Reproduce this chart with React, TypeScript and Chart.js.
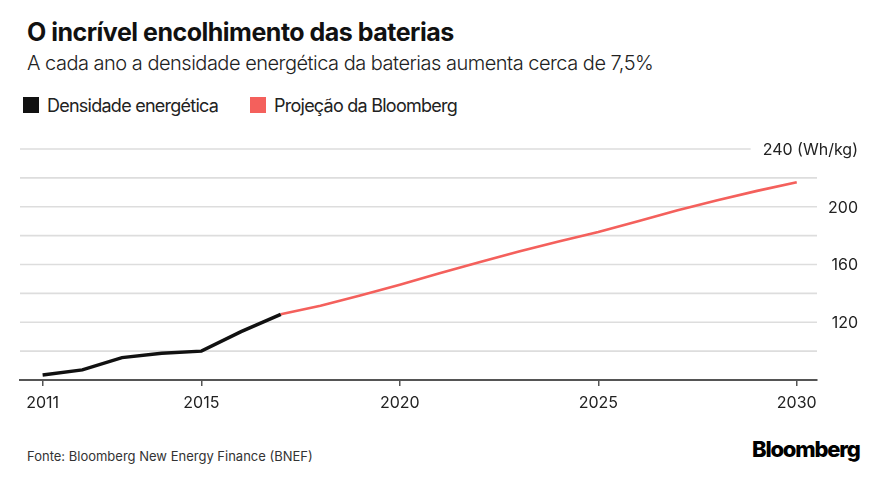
import React, { useEffect, useRef } from "react";
import { Chart, registerables } from "chart.js";

Chart.register(...registerables);

// ---- Data ----
const measuredYears = [2011, 2012, 2013, 2014, 2015, 2016, 2017];
const measuredDensity = [83.5, 87, 95.5, 98.5, 100, 113.5, 125.5];
const projectionYears = [2017, 2018, 2019, 2020, 2021, 2022, 2023, 2024, 2025, 2026, 2027, 2028, 2029, 2030];
const projectionDensity = [125.5, 131.5, 138.5, 146, 154, 161.5, 169, 176, 182.5, 190, 197.5, 204.5, 211, 217];
const xTickYears = [2011, 2015, 2020, 2025, 2030];
const gridValues = [100, 120, 140, 160, 180, 200, 220, 240];
const labeledValues = [120, 160, 200, 240];
const unitSuffix = " (Wh/kg)";
const yMin = 80;
const yMax = 240;
const xMin = 2010.43;
const xMax = 2030.51;

const titleText = "O incrível encolhimento das baterias";
const subtitleText = "A cada ano a densidade energética da baterias aumenta cerca de 7,5%";
const seriesNames = ["Densidade energética", "Projeção da Bloomberg"];
const sourceText = "Fonte: Bloomberg New Energy Finance (BNEF)";
const brandText = "Bloomberg";

const BLACK = "#111111";
const RED = "#f4605c";

const gridPlugin = {
  id: "customGrid",
  beforeDatasetsDraw(chart: any) {
    const { ctx, chartArea, scales } = chart;
    const y = scales.y;
    ctx.save();
    ctx.font = "16px Inter";
    ctx.textAlign = "right";
    ctx.textBaseline = "middle";
    const labelRight = chart.width - 24;
    for (const v of gridValues) {
      const py = y.getPixelForValue(v);
      let right = chartArea.right;
      if (v === yMax) {
        const w = ctx.measureText(String(v) + unitSuffix).width;
        right = labelRight - w - 12;
      }
      ctx.strokeStyle = "#dddddd";
      ctx.lineWidth = 1.6;
      ctx.beginPath();
      ctx.moveTo(chartArea.left, py);
      ctx.lineTo(right, py);
      ctx.stroke();
    }
    ctx.fillStyle = "#222222";
    for (const v of labeledValues) {
      const label = v === yMax ? String(v) + unitSuffix : String(v);
      ctx.fillText(label, labelRight, y.getPixelForValue(v) + 1);
    }
    ctx.restore();
  },
};

function ChartCanvas() {
  const ref = useRef<HTMLCanvasElement>(null);
  useEffect(() => {
    if (!ref.current) return;
    const chart = new Chart(ref.current, {
      type: "line",
      data: {
        datasets: [
          {
            label: seriesNames[0],
            data: measuredYears.map((yr, i) => ({ x: yr, y: measuredDensity[i] })),
            borderColor: BLACK,
            backgroundColor: BLACK,
            borderWidth: 3.5,
            pointRadius: 0,
            tension: 0,
            order: 0,
          },
          {
            label: seriesNames[1],
            data: projectionYears.map((yr, i) => ({ x: yr, y: projectionDensity[i] })),
            borderColor: RED,
            backgroundColor: RED,
            borderWidth: 2.6,
            pointRadius: 0,
            tension: 0,
            order: 1,
          },
        ],
      },
      options: {
        animation: false,
        responsive: false,
        maintainAspectRatio: false,
        layout: { padding: { top: 19, left: 20, right: 65, bottom: 0 } },
        plugins: {
          legend: { display: false },
          title: { display: false },
          tooltip: { enabled: false },
        },
        scales: {
          x: {
            type: "linear",
            position: "bottom",
            min: xMin,
            max: xMax,
            afterBuildTicks: (scale: any) => {
              scale.ticks = xTickYears.map((v) => ({ value: v }));
            },
            afterFit: (scale: any) => {
              scale.height = 50;
            },
            border: { display: true, color: "#555555", width: 2 },
            grid: {
              display: true,
              drawOnChartArea: false,
              drawTicks: true,
              tickLength: 6,
              color: "#555555",
              lineWidth: 1.5,
            },
            ticks: {
              autoSkip: false,
              maxRotation: 0,
              padding: 8,
              color: "#222222",
              font: { family: "Inter", size: 16 },
              callback: (v: any) => String(v),
            },
          },
          y: {
            type: "linear",
            display: false,
            min: yMin,
            max: yMax,
          },
        },
      },
      plugins: [gridPlugin],
    });
    return () => chart.destroy();
  }, []);
  return (
    <canvas
      ref={ref}
      width={882}
      height={300}
      style={{ position: "absolute", left: 0, top: 130, width: 882, height: 300 }}
    />
  );
}

export default function App() {
  const text = (extra: React.CSSProperties): React.CSSProperties => ({
    position: "absolute",
    whiteSpace: "nowrap",
    fontFamily: "Inter, 'Liberation Sans', sans-serif",
    lineHeight: 1,
    margin: 0,
    ...extra,
  });
  return (
    <div
      style={{
        position: "absolute",
        left: 0,
        top: 0,
        width: 882,
        height: 479,
        background: "#ffffff",
        overflow: "hidden",
      }}
    >
      <div style={text({ left: 27, top: 20, fontSize: 25, fontWeight: 700, letterSpacing: -0.5, color: "#111" })}>
        {titleText}
      </div>
      <div style={text({ left: 27, top: 53, fontSize: 20, fontWeight: 300, letterSpacing: -0.5, color: "#222" })}>
        {subtitleText}
      </div>
      <div style={{ position: "absolute", left: 23, top: 97, width: 16, height: 16, background: BLACK }} />
      <div style={text({ left: 47, top: 96.5, fontSize: 18, fontWeight: 400, letterSpacing: -0.75, color: "#222" })}>
        {seriesNames[0]}
      </div>
      <div style={{ position: "absolute", left: 250, top: 97, width: 16, height: 16, background: RED }} />
      <div style={text({ left: 274, top: 96.5, fontSize: 18, fontWeight: 400, letterSpacing: -0.75, color: "#222" })}>
        {seriesNames[1]}
      </div>
      <ChartCanvas />
      <div style={text({ left: 27, top: 450, fontSize: 13, fontWeight: 400, letterSpacing: 0, color: "#333" })}>
        {sourceText}
      </div>
      <div style={text({ left: 752, top: 438, fontSize: 22, fontWeight: 800, letterSpacing: -1.2, color: "#000" })}>
        {brandText}
      </div>
    </div>
  );
}
